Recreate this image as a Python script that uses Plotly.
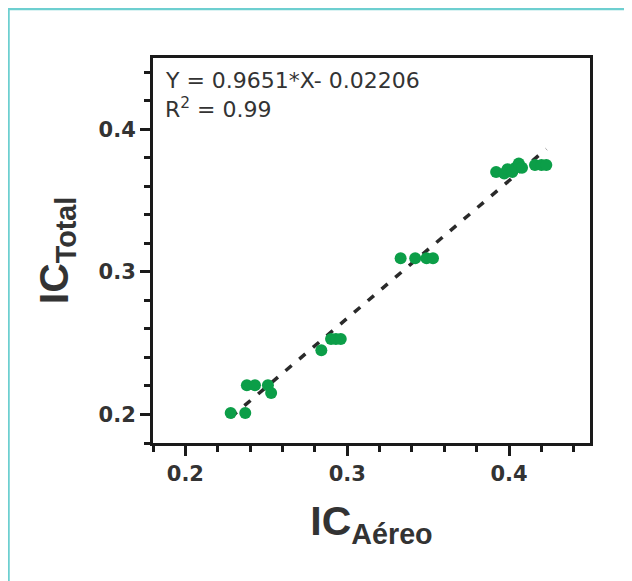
import plotly.graph_objects as go

# ---- data ----
ic_aereo = [0.228, 0.237, 0.238, 0.243, 0.251, 0.253,
            0.284, 0.290, 0.293, 0.296,
            0.333, 0.342, 0.349, 0.353,
            0.392, 0.397, 0.399, 0.402, 0.404, 0.406, 0.408, 0.416, 0.420, 0.423]
ic_total = [0.201, 0.201, 0.2205, 0.2205, 0.2205, 0.215,
            0.245, 0.253, 0.253, 0.253,
            0.3095, 0.3095, 0.3095, 0.3095,
            0.370, 0.369, 0.372, 0.370, 0.373, 0.376, 0.373, 0.375, 0.375, 0.375]
fit_slope = 0.9651
fit_intercept = -0.02206
r_squared = 0.99
tick_vals = [0.2, 0.3, 0.4]
tick_text = ["0.2", "0.3", "0.4"]

W, H = 632, 581
OFF = 8  # page body margin
# plot-area edges in page pixels
PL, PR, PT, PB = 153, 590, 58, 443
ML, MT = PL - OFF, PT - OFF
MR, MB = W - (PR - OFF), H - (PB - OFF)
PW, PH = W - ML - MR, H - MT - MB

def px_to_paper(px, py):
    fx, fy = px - OFF, py - OFF
    return (fx - ML) / PW, (H - MB - fy) / PH

fit_x = [min(ic_aereo), max(ic_aereo)]
fit_y = [fit_slope * v + fit_intercept for v in fit_x]

fig = go.Figure()
fig.add_trace(go.Scatter(x=fit_x, y=fit_y, mode="lines",
                         line=dict(color="#2a2a2a", width=3.5, dash="8px,10px"),
                         showlegend=False, hoverinfo="skip"))
fig.add_trace(go.Scatter(x=ic_aereo, y=ic_total, mode="markers",
                         marker=dict(color="#0c9e48", size=12, line=dict(width=0)),
                         showlegend=False))

tickfont = dict(family="DejaVu Sans", size=21, color="#333333", weight="bold")
titlefont = dict(family="Liberation Sans, Arial, sans-serif", size=41, color="#333333")
axis_common = dict(
    range=[0.18, 0.45], showgrid=False, zeroline=False,
    showline=True, linecolor="#1a1a1a", linewidth=3, mirror=True,
    ticks="outside", ticklen=10, tickwidth=3, tickcolor="#1a1a1a",
    tickvals=tick_vals, ticktext=tick_text,
    tickfont=tickfont,
    minor=dict(dtick=0.02, tick0=0.2, ticks="outside", ticklen=6,
               tickwidth=3, tickcolor="#1a1a1a"),
)
fig.update_xaxes(**axis_common,
                 title=dict(text="<b>IC<sub>Aéreo</sub></b>", font=titlefont, standoff=22))
fig.update_yaxes(**axis_common,
                 title=dict(text="<b>IC<sub>Total</sub></b>", font=titlefont, standoff=18))

annfont = dict(family="DejaVu Sans", size=22, color="#333333")
ax, ay = px_to_paper(164, 94)
fig.add_annotation(xref="paper", yref="paper", x=ax, y=ay, xanchor="left", yanchor="bottom",
                   text="Y = %.4f*X- %.5f" % (fit_slope, -fit_intercept), showarrow=False,
                   font=annfont, borderpad=0)
ax2, ay2 = px_to_paper(164, 123)
fig.add_annotation(xref="paper", yref="paper", x=ax2, y=ay2, xanchor="left", yanchor="bottom",
                   text="R<sup>2</sup> = %.2f" % r_squared, showarrow=False,
                   font=annfont, borderpad=0)

# teal frame (clipped at right and bottom edges)
x0, y0 = px_to_paper(OFF + 0.5, 9)
x1, _ = px_to_paper(W + 20, 9)
_, yb = px_to_paper(OFF + 0.5, H + 20)
fig.add_shape(type="path", xref="paper", yref="paper",
              path="M %f,%f L %f,%f L %f,%f" % (x0, yb, x0, y0, x1, y0),
              line=dict(color="#6dcfd0", width=2.5))

fig.update_layout(width=W, height=H, autosize=False,
                  margin=dict(l=ML, r=MR, t=MT, b=MB),
                  paper_bgcolor="white", plot_bgcolor="white")

fig.write_html("out.html")
